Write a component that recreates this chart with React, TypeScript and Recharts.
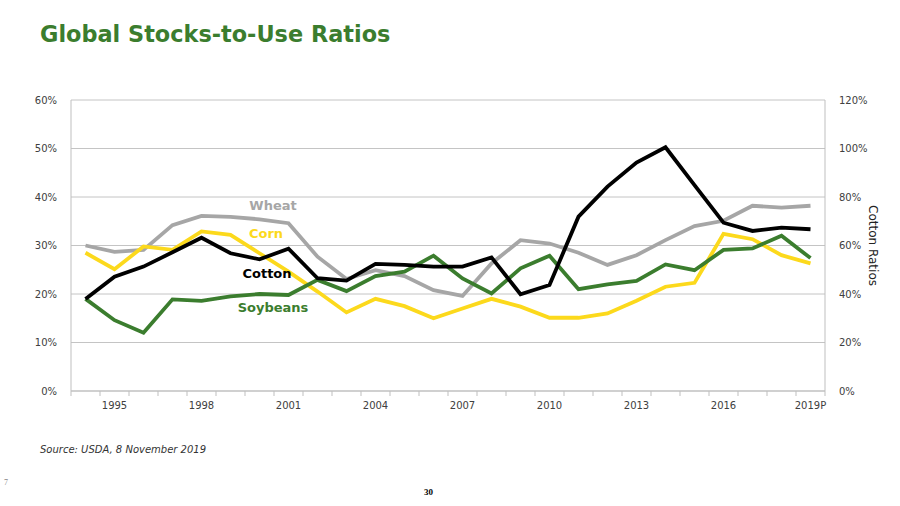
import { LineChart, Line, XAxis, YAxis, CartesianGrid } from "recharts";

const years = [
  "1994", "1995", "1996", "1997", "1998", "1999", "2000", "2001", "2002", "2003", "2004", "2005", "2006",
  "2007", "2008", "2009", "2010", "2011", "2012", "2013", "2014", "2015", "2016", "2017", "2018", "2019P",
];
const wheat = [
  30.0, 28.7, 29.1, 34.2, 36.1, 35.9, 35.4, 34.6, 27.7, 23.1, 24.9, 23.7, 20.8,
  19.6, 26.3, 31.1, 30.4, 28.5, 26.0, 28.0, 31.1, 34.0, 35.1, 38.2, 37.8, 38.2,
];
const corn = [
  28.5, 25.1, 29.8, 29.1, 32.9, 32.2, 28.4, 24.6, 20.5, 16.2, 19.0, 17.5, 15.0,
  17.0, 19.0, 17.4, 15.1, 15.1, 16.0, 18.6, 21.5, 22.3, 32.4, 31.3, 28.0, 26.3,
];
const soybeans = [
  19.0, 14.6, 12.0, 18.9, 18.6, 19.5, 20.0, 19.8, 22.9, 20.6, 23.7, 24.6, 27.9,
  23.2, 20.1, 25.3, 27.9, 21.0, 22.0, 22.7, 26.1, 24.9, 29.1, 29.4, 32.0, 27.4,
];
// cotton is read on the right axis (0-120%)
const cotton = [
  37.9, 47.1, 51.3, 57.2, 63.2, 56.8, 54.3, 58.7, 46.5, 45.5, 52.4, 52.0, 51.3,
  51.3, 55.1, 39.9, 43.7, 71.9, 84.3, 94.2, 100.5, 84.9, 69.4, 66.0, 67.4, 66.7,
];
const leftTicks = [0, 10, 20, 30, 40, 50, 60];
const rightTicks = [0, 20, 40, 60, 80, 100, 120];
const labelIdx = [1, 4, 7, 10, 13, 16, 19, 22, 25];

const data = years.map((y, i) => ({
  i,
  year: y,
  wheat: wheat[i],
  corn: corn[i],
  soybeans: soybeans[i],
  cotton: cotton[i],
}));

const boundaries = Array.from({ length: years.length + 1 }, (_, k) => k - 0.5);
const xTicks = [...boundaries, ...labelIdx].sort((a, b) => a - b);

const FONT = "'DejaVu Sans', Verdana, sans-serif";

function XTick(props: any) {
  const { x, y, payload } = props;
  const v = payload.value as number;
  if (v % 1 !== 0) {
    return <line x1={x} x2={x} y1={y} y2={y + 5} stroke="#bfbfbf" strokeWidth={1} />;
  }
  return (
    <text x={x} y={y + 18} textAnchor="middle" fontSize={10} fill="#404040" fontFamily={FONT}>
      {years[v]}
    </text>
  );
}

const labelStyle = (color: string, left: number, top: number): React.CSSProperties => ({
  position: "absolute",
  left,
  top,
  transform: "translate(-50%, -50%)",
  color,
  fontFamily: FONT,
  fontWeight: "bold",
  fontSize: 13,
  whiteSpace: "nowrap",
});

export default function App() {
  return (
    <div style={{ position: "absolute", left: 0, top: 0, width: 900, height: 506, background: "#fff", overflow: "hidden" }}>
      <div
        style={{
          position: "absolute",
          left: 40,
          top: 21,
          fontFamily: FONT,
          fontWeight: "bold",
          fontSize: 22.4,
          color: "#3b7d2e",
          whiteSpace: "nowrap",
        }}
      >
        Global Stocks-to-Use Ratios
      </div>
      <div style={{ position: "absolute", left: 0, top: 0 }}>
        <LineChart width={900} height={506} data={data} margin={{ top: 100, right: 0, bottom: 85, left: 0 }}>
          <CartesianGrid vertical={false} stroke="#c4c4c4" yAxisId="left" />
          <XAxis
            dataKey="i"
            type="number"
            domain={[-0.5, 25.5]}
            ticks={xTicks}
            interval={0}
            tick={<XTick />}
            tickLine={false}
            tickSize={0}
            tickMargin={0}
            stroke="#bfbfbf"
            height={30}
          />
          <YAxis
            yAxisId="left"
            domain={[0, 60]}
            ticks={leftTicks}
            tickFormatter={(v: number) => `${v}%`}
            width={71}
            stroke="#bfbfbf"
            tickLine={false}
            tickMargin={8}
            tick={{ fontSize: 10, fill: "#404040", fontFamily: FONT }}
          />
          <YAxis
            yAxisId="right"
            orientation="right"
            domain={[0, 120]}
            ticks={rightTicks}
            tickFormatter={(v: number) => `${v}%`}
            width={75}
            stroke="#bfbfbf"
            tickLine={false}
            tickMargin={8}
            tick={{ fontSize: 10, fill: "#404040", fontFamily: FONT, textAnchor: "start" }}
            label={{
              value: "Cotton Ratios",
              angle: 90,
              position: "insideRight",
              offset: 27,
              style: { fontSize: 12, fill: "#222", fontFamily: FONT, textAnchor: "middle" },
            }}
          />
          <Line yAxisId="left" dataKey="wheat" stroke="#a6a6a6" strokeWidth={3.8} dot={false} isAnimationActive={false} />
          <Line yAxisId="left" dataKey="corn" stroke="#fcd91c" strokeWidth={3.8} dot={false} isAnimationActive={false} />
          <Line yAxisId="left" dataKey="soybeans" stroke="#3b7d2e" strokeWidth={3.8} dot={false} isAnimationActive={false} />
          <Line yAxisId="right" dataKey="cotton" stroke="#000000" strokeWidth={3.8} dot={false} isAnimationActive={false} />
        </LineChart>
      </div>
      <div style={labelStyle("#a6a6a6", 273, 205)}>Wheat</div>
      <div style={labelStyle("#fcd91c", 266, 233)}>Corn</div>
      <div style={labelStyle("#000000", 267, 273)}>Cotton</div>
      <div style={labelStyle("#3b7d2e", 273, 307)}>Soybeans</div>
      <div
        style={{
          position: "absolute",
          left: 40,
          top: 444,
          fontFamily: FONT,
          fontStyle: "italic",
          fontSize: 10,
          color: "#333",
          whiteSpace: "nowrap",
        }}
      >
        Source: USDA, 8 November 2019
      </div>
      <div style={{ position: "absolute", left: 4, top: 478, fontFamily: "serif", fontSize: 8, color: "#888" }}>7</div>
      <div
        style={{ position: "absolute", left: 424, top: 487, fontFamily: "'Liberation Serif', serif", fontWeight: "bold", fontSize: 9, color: "#000" }}
      >
        30
      </div>
    </div>
  );
}
